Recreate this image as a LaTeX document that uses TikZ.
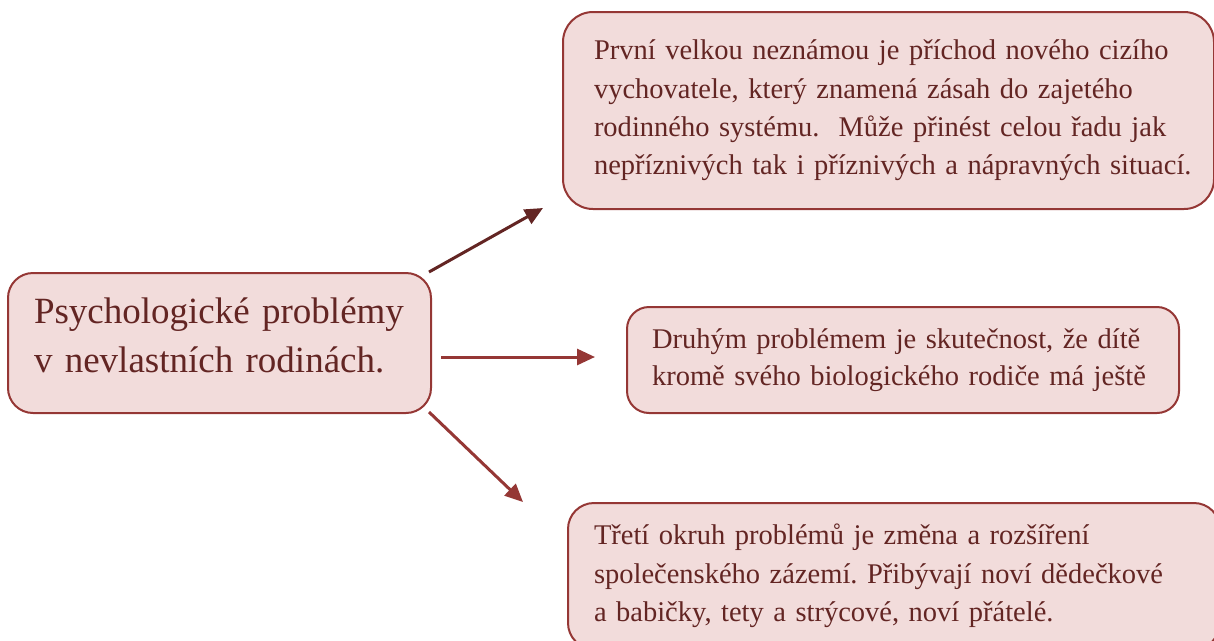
\documentclass[tikz,border=0pt]{standalone}
\usepackage{fontspec}
\setmainfont{Liberation Serif}
\usetikzlibrary{arrows.meta}
\definecolor{boxfill}{HTML}{F2DCDB}
\definecolor{boxline}{HTML}{953735}
\definecolor{txt}{HTML}{632523}
\definecolor{darkarrow}{HTML}{632523}
\frenchspacing
\begin{document}
\begin{tikzpicture}[x=1pt,y=-1pt,
  probbox/.style={draw=boxline, line width=2pt, fill=boxfill, rounded corners=25pt,
    anchor=north west, text=txt, align=left, inner ysep=0pt},
  conn/.style={line width=3pt, -{Triangle[length=18pt,width=16pt]}}]
\useasboundingbox (0,0) rectangle (1214,640);

\node[probbox, minimum width=423pt, minimum height=140pt, inner xsep=26pt,
  text width=371pt, font=\fontsize{37}{49}\selectfont] (main) at (7,272)
  {\mbox{Psychologické problémy}\\\mbox{v nevlastních rodinách.}\rule[-16pt]{0pt}{0pt}};

\node[probbox, rounded corners=30pt, minimum width=651pt, minimum height=197pt, inner xsep=31pt,
  text width=589pt, font=\fontsize{28.5}{38.3}\selectfont] (first) at (562,11)
  {\mbox{První velkou neznámou je příchod nového cizího}\\\mbox{vychovatele, který znamená zásah do zajetého}\\\mbox{rodinného systému.~ Může přinést celou řadu jak}\\\mbox{nepříznivých tak i příznivých a nápravných situací.}\rule[-4pt]{0pt}{0pt}};

\node[probbox, rounded corners=22pt, minimum width=552pt, minimum height=106pt, inner xsep=25pt,
  text width=502pt, font=\fontsize{28.5}{37}\selectfont] (second) at (626,306)
  {\mbox{Druhým problémem je skutečnost, že dítě}\\\mbox{kromě svého biologického rodiče má ještě}};

\node[probbox, rounded corners=26pt, minimum width=652pt, minimum height=146pt, inner xsep=26pt,
  text width=600pt, font=\fontsize{28.5}{38.5}\selectfont] (third) at (567,502)
  {\mbox{Třetí okruh problémů je změna a rozšíření}\\\mbox{společenského zázemí. Přibývají noví dědečkové}\\\mbox{a babičky, tety a strýcové, noví přátelé.}};

\coordinate (s1) at (429,272);
\coordinate (e1) at (543,208);
\coordinate (s2) at (441,357);
\coordinate (e2) at (595,357);
\coordinate (s3) at (429,412);
\coordinate (e3) at (523,502);

\draw[conn, darkarrow] (s1) -- (e1);
\draw[conn, boxline] (s2) -- (e2);
\draw[conn, boxline] (s3) -- (e3);
\end{tikzpicture}
\end{document}
